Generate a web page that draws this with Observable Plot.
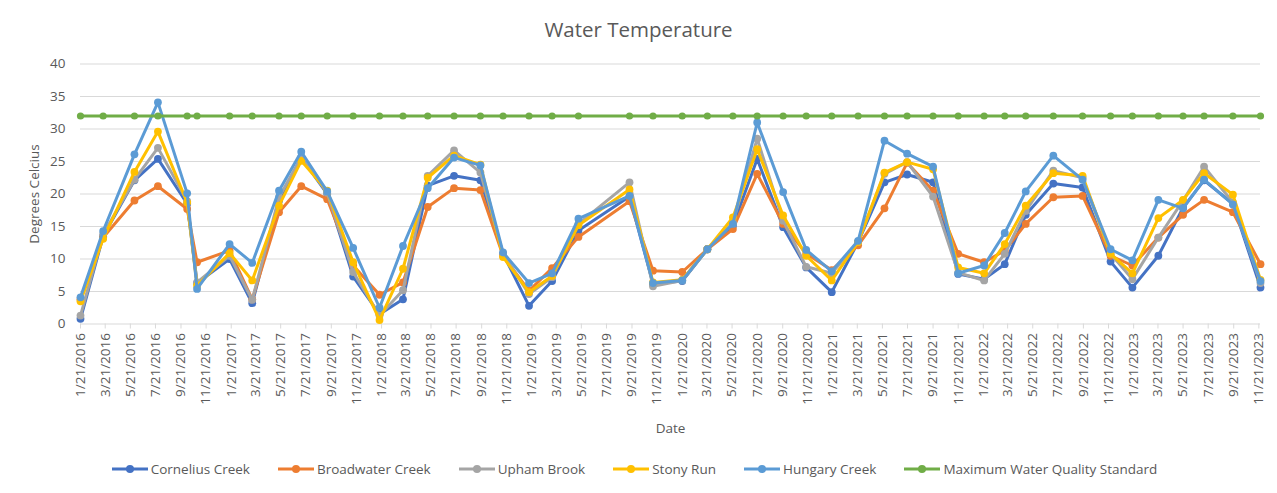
<!DOCTYPE html>
<html>
<head>
<meta charset="utf-8">
<script src="https://cdn.jsdelivr.net/npm/d3@7"></script>
<script src="https://cdn.jsdelivr.net/npm/@observablehq/plot@0.6"></script>
<style>
  html, body { margin: 0; padding: 0; background: #fff; }
  #wrap { width: 1277px; height: 493px; overflow: hidden; font-family: "Open Sans", sans-serif; color: #595959; }
  #title { height: 50px; box-sizing: border-box; padding-top: 16px; text-align: center; font-size: 20.5px; line-height: 26px; color: #595959; }
  #chart { height: 400px; }
  #legend { height: 43px; display: flex; justify-content: center; align-items: center; box-sizing: border-box; padding-bottom: 5px; padding-right: 8px; font-size: 13.5px; color: #595959; }
  .item { display: flex; align-items: center; margin: 0 14px; }
  .item svg { margin-right: 3px; }
</style>
</head>
<body>
<div id="wrap">
  <div id="title">Water Temperature</div>
  <div id="chart"></div>
  <div id="legend"></div>
</div>
<script>
// ---- data ----
const sampleDates = [
  "2016-01-21","2016-03-16","2016-05-31","2016-07-27","2016-10-06","2016-10-30",
  "2017-01-17","2017-03-13","2017-05-17","2017-07-10","2017-09-11","2017-11-13",
  "2018-01-16","2018-03-14","2018-05-13","2018-07-16","2018-09-18","2018-11-12",
  "2019-01-14","2019-03-11","2019-05-14","2019-09-15","2019-11-11",
  "2020-01-21","2020-03-22","2020-05-23","2020-07-21","2020-09-22","2020-11-17",
  "2021-01-18","2021-03-23","2021-05-26","2021-07-20","2021-09-21","2021-11-21",
  "2022-01-23","2022-03-14","2022-05-04","2022-07-10","2022-09-19","2022-11-26",
  "2023-01-18","2023-03-22","2023-05-21","2023-07-11","2023-09-19","2023-11-25"
];
const cornelius = [0.8,13.5,22.1,25.4,18.5,6.3,10.0,3.2,19.0,25.6,20.0,7.3,1.5,3.8,21.3,22.8,22.1,10.8,2.8,6.6,14.4,19.6,6.2,6.6,11.5,15.1,25.4,14.9,8.7,4.9,12.6,21.8,23.0,21.8,7.7,6.9,9.2,16.8,21.6,21.0,9.6,5.6,10.5,17.9,22.1,18.5,5.6];
const broadwater = [3.8,13.3,19.0,21.2,17.7,9.5,11.3,3.8,17.2,21.2,19.2,9.0,4.5,6.4,18.0,20.9,20.6,10.5,5.1,8.6,13.4,18.9,8.2,8.0,11.5,14.6,23.1,15.4,10.8,8.3,12.1,17.8,24.8,20.5,10.8,9.5,11.3,15.4,19.5,19.7,10.5,9.0,13.3,16.8,19.1,17.2,9.2];
const upham = [1.3,13.8,22.2,27.1,18.9,6.4,10.5,3.7,19.5,25.6,20.2,8.0,1.3,5.2,22.8,26.7,23.3,10.8,4.6,7.2,15.4,21.8,5.8,6.7,11.5,15.6,28.5,15.9,8.8,7.8,12.6,23.1,24.9,19.6,7.9,6.7,10.8,17.4,23.6,22.5,10.8,6.9,13.3,19.0,24.2,18.7,6.3];
const stony = [3.5,13.1,23.4,29.6,18.7,5.9,10.9,6.7,18.2,25.1,20.5,9.5,0.6,8.5,22.5,25.9,24.5,10.3,4.9,7.4,15.2,20.7,6.4,6.8,11.5,16.4,26.9,16.7,10.5,6.7,12.6,23.3,24.9,23.8,8.7,7.8,12.3,18.2,23.2,22.8,10.8,7.8,16.3,19.1,23.2,19.9,6.8];
const hungary = [4.1,14.3,26.1,34.1,20.1,5.4,12.3,9.4,20.5,26.5,20.4,11.7,2.5,12.0,20.9,25.6,24.4,11.0,6.3,7.8,16.2,19.7,6.3,6.7,11.5,15.4,31.0,20.3,11.4,8.1,12.8,28.2,26.2,24.2,7.8,9.0,14.0,20.4,25.9,22.2,11.5,9.8,19.1,17.8,22.2,18.4,6.6];
const maxStandard = [32,32,32,32,32,32,32,32,32,32,32,32,32,32,32,32,32,32,32,32,32,32,32,32,32,32,32,32,32,32,32,32,32,32,32,32,32,32,32,32,32,32,32,32,32,32,32];

const seriesNames = ["Cornelius Creek","Broadwater Creek","Upham Brook","Stony Run","Hungary Creek","Maximum Water Quality Standard"];
const seriesColors = ["#4472C4","#ED7D31","#A5A5A5","#FFC000","#5B9BD5","#70AD47"];
const seriesValues = [cornelius, broadwater, upham, stony, hungary, maxStandard];

const tickYears = [2016,2017,2018,2019,2020,2021,2022,2023];
const tickMonths = [1,3,5,7,9,11];
const yTicks = [0,5,10,15,20,25,30,35,40];

// ---- build ----
const parse = s => new Date(s + "T00:00:00Z");
const xTicks = tickYears.flatMap(y => tickMonths.map(m => new Date(Date.UTC(y, m - 1, 21))));
const fmt = d => `${d.getUTCMonth() + 1}/${d.getUTCDate()}/${d.getUTCFullYear()}`;

const marks = [
  Plot.gridY(yTicks, {stroke: "#D9D9D9", strokeOpacity: 1, strokeWidth: 1}),
  Plot.axisX({ticks: xTicks, tickSize: 5, text: null, stroke: "#D9D9D9", strokeOpacity: 1}),
  Plot.axisX({ticks: xTicks, tickSize: 0, tickPadding: 9, tickFormat: fmt, tickRotate: -90,
    fontSize: 13.5, fill: "#595959", label: "Date", labelAnchor: "center", labelArrow: false, labelOffset: 109}),
  Plot.axisY({ticks: yTicks, tickSize: 0, tickPadding: 15, fontSize: 13.5, fill: "#595959",
    label: "Degrees Celcius", labelAnchor: "center", labelArrow: false, labelOffset: 51})
];
seriesNames.forEach((name, i) => {
  const rows = sampleDates.map((d, j) => ({date: parse(d), value: seriesValues[i][j]}));
  marks.push(Plot.line(rows, {x: "date", y: "value", stroke: seriesColors[i], strokeWidth: 3, strokeLinejoin: "round"}));
  marks.push(Plot.dot(rows, {x: "date", y: "value", fill: seriesColors[i], r: i === 5 ? 3.6 : 3.9, stroke: "none"}));
});

const chart = Plot.plot({
  width: 1277,
  height: 400,
  marginTop: 13.5,
  marginBottom: 126.5,
  marginLeft: 80,
  marginRight: 17,
  style: {fontFamily: "'Open Sans', sans-serif", fontSize: "14.5px", color: "#595959", background: "#fff", overflow: "visible"},
  x: {type: "utc", domain: [parse("2016-01-21"), parse("2023-11-25")]},
  y: {domain: [0, 40]},
  marks
});
document.getElementById("chart").appendChild(chart);

// ---- legend ----
const legend = document.getElementById("legend");
seriesNames.forEach((name, i) => {
  const item = document.createElement("div");
  item.className = "item";
  item.innerHTML = `<svg width="36" height="10"><line x1="0" y1="5" x2="36" y2="5" stroke="${seriesColors[i]}" stroke-width="3"/><circle cx="18" cy="5" r="4" fill="${seriesColors[i]}"/></svg><span>${name}</span>`;
  legend.appendChild(item);
});
</script>
</body>
</html>
